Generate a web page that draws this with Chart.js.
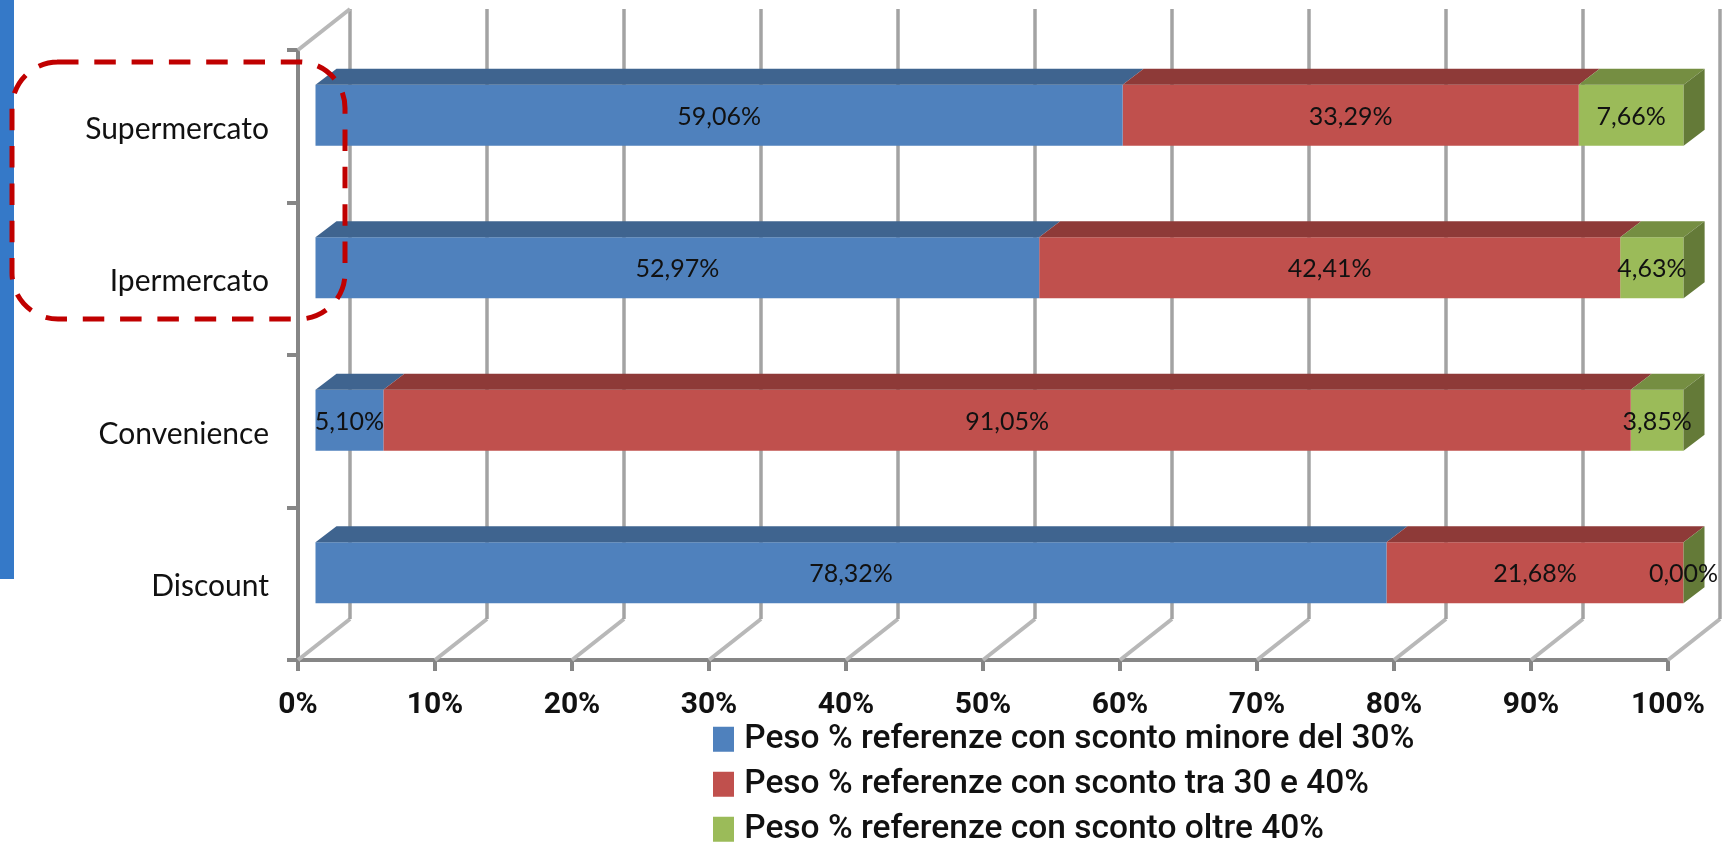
<!DOCTYPE html>
<html>
<head>
<meta charset="utf-8">
<title>Peso % referenze per canale</title>
<script src="https://cdn.jsdelivr.net/npm/chart.js@4"></script>
<style>
  html, body { margin: 0; padding: 0; background: #fff; overflow: hidden; }
  canvas { display: block; }
</style>
</head>
<body>
<canvas id="chart" width="1722" height="843"></canvas>
<script>
// Channels, top to bottom
const categories = ['Supermercato', 'Ipermercato', 'Convenience', 'Discount'];
// Share of products by discount band, one value per channel
const sottoTrenta = [59.06, 52.97, 5.10, 78.32];
const trentaQuaranta = [33.29, 42.41, 91.05, 21.68];
const oltreQuaranta = [7.66, 4.63, 3.85, 0.00];
const seriesNames = [
  'Peso % referenze con sconto minore del 30%',
  'Peso % referenze con sconto tra 30 e 40%',
  'Peso % referenze con sconto oltre 40%'
];
const frontColors = ['#4F81BD', '#C0504D', '#9BBB59'];
const topColors = ['#3F648F', '#8E3A38', '#758E42'];
const sideColor = '#647A38';

// Projection of the box: the bars sit part way into the floor depth
const WALL = { dx: 52, dy: -41 };
const BAR_SHIFT = { dx: 15.5, dy: -11 };
const BAR_DEPTH = { dx: 21, dy: -16 };

function fillPoly(ctx, pts, color) {
  ctx.fillStyle = color;
  ctx.beginPath();
  pts.forEach((p, i) => i ? ctx.lineTo(p[0], p[1]) : ctx.moveTo(p[0], p[1]));
  ctx.closePath();
  ctx.fill();
}

const wallPlugin = {
  id: 'wall',
  beforeDatasetsDraw(chart) {
    const { ctx, chartArea: a, scales: { x } } = chart;
    ctx.save();
    x.ticks.forEach((t, i) => {
      const px = x.getPixelForValue(t.value);
      // floor diagonal
      ctx.strokeStyle = '#B8B8B8';
      ctx.lineWidth = 4;
      ctx.beginPath();
      ctx.moveTo(px, a.bottom);
      ctx.lineTo(px + WALL.dx, a.bottom + WALL.dy);
      ctx.stroke();
      // back-wall gridline
      ctx.strokeStyle = '#A3A3A3';
      ctx.lineWidth = 3.5;
      ctx.beginPath();
      ctx.moveTo(px + WALL.dx, a.bottom + WALL.dy);
      ctx.lineTo(px + WALL.dx, a.top + WALL.dy);
      ctx.stroke();
      if (i === 0) {
        ctx.strokeStyle = '#B8B8B8';
        ctx.lineWidth = 4;
        ctx.beginPath();
        ctx.moveTo(px, a.top);
        ctx.lineTo(px + WALL.dx, a.top + WALL.dy);
        ctx.stroke();
      }
    });
    ctx.restore();
    // Bars are drawn from the shifted front plane
    ctx.save();
    ctx.translate(BAR_SHIFT.dx, BAR_SHIFT.dy);
  },
  afterDatasetsDraw(chart) {
    const { ctx } = chart;
    const metas = chart.data.datasets.map((d, i) => chart.getDatasetMeta(i));
    // Top faces, then the end cap of each stack
    metas.forEach((meta, s) => {
      meta.data.forEach(el => {
        const top = el.y - el.height / 2;
        fillPoly(ctx, [
          [el.base, top], [el.x, top],
          [el.x + BAR_DEPTH.dx, top + BAR_DEPTH.dy],
          [el.base + BAR_DEPTH.dx, top + BAR_DEPTH.dy]
        ], topColors[s]);
      });
    });
    metas[metas.length - 1].data.forEach(el => {
      const top = el.y - el.height / 2, bot = el.y + el.height / 2;
      fillPoly(ctx, [
        [el.x, top], [el.x + BAR_DEPTH.dx, top + BAR_DEPTH.dy],
        [el.x + BAR_DEPTH.dx, bot + BAR_DEPTH.dy], [el.x, bot]
      ], sideColor);
    });
    // Value labels
    ctx.fillStyle = '#111';
    ctx.font = '25px Lato';
    ctx.textAlign = 'center';
    ctx.textBaseline = 'middle';
    metas.forEach((meta, s) => {
      meta.data.forEach((el, j) => {
        const v = chart.data.datasets[s].data[j];
        ctx.fillText(v.toFixed(2).replace('.', ',') + '%', (el.base + el.x) / 2, el.y + 1.5);
      });
    });
    ctx.restore();
  }
};

// Places the legend under the axis, independent of the plot layout
const legendPlacer = {
  id: 'legendPlacer',
  afterLayout(chart) {
    const l = chart.legend;
    l.left = 708;
    l.top = 711;
    l.right = 1722;
    l.bottom = 1000;
  }
};

// Side band and the dashed highlight around the two large formats
const decorPlugin = {
  id: 'decor',
  beforeDraw(chart) {
    const { ctx } = chart;
    ctx.fillStyle = '#3579C8';
    ctx.fillRect(0, 0, 14, 579);
  },
  afterDraw(chart) {
    const { ctx } = chart;
    const l = 12, r = 345, t = 62, b = 319, rad = 46;
    ctx.save();
    ctx.strokeStyle = '#C00000';
    ctx.lineWidth = 5;
    ctx.setLineDash([21.5, 15.8]);
    ctx.beginPath();
    ctx.moveTo(57, t);
    ctx.lineTo(r - rad, t);
    ctx.arcTo(r, t, r, t + rad, rad);
    ctx.lineTo(r, b - rad);
    ctx.arcTo(r, b, r - rad, b, rad);
    ctx.lineTo(l + rad, b);
    ctx.arcTo(l, b, l, b - rad, rad);
    ctx.lineTo(l, t + rad);
    ctx.arcTo(l, t, l + rad, t, rad);
    ctx.stroke();
    ctx.restore();
  }
};

const series = [sottoTrenta, trentaQuaranta, oltreQuaranta];

new Chart(document.getElementById('chart'), {
  type: 'bar',
  data: {
    labels: categories,
    datasets: series.map((values, i) => ({
      label: seriesNames[i],
      data: values,
      backgroundColor: frontColors[i],
      clip: false
    }))
  },
  options: {
    indexAxis: 'y',
    responsive: false,
    animation: false,
    barPercentage: 0.4,
    categoryPercentage: 1,
    layout: { padding: { top: 50, right: 54, left: 0, bottom: 0 } },
    scales: {
      x: {
        stacked: true,
        min: 0,
        max: 100,
        afterFit(s) { s.height = 183; },
        ticks: {
          stepSize: 10,
          maxRotation: 0,
          autoSkip: false,
          padding: 16,
          color: '#111',
          font: { family: 'Roboto', size: 30, weight: 'bold' },
          callback: v => v + '%'
        },
        grid: { drawOnChartArea: false, drawTicks: true, tickLength: 11, color: '#868686', lineWidth: 4 },
        border: { color: '#868686', width: 4 }
      },
      y: {
        stacked: true,
        afterFit(s) { s.width = 298; },
        ticks: {
          padding: 18,
          labelOffset: 3,
          color: '#111',
          font: { family: 'Lato', size: 30 }
        },
        grid: { drawOnChartArea: false, drawTicks: true, tickLength: 11, color: '#868686', lineWidth: 4 },
        border: { color: '#868686', width: 4 }
      }
    },
    plugins: {
      tooltip: { enabled: false },
      legend: {
        position: 'chartArea',
        align: 'start',
        labels: {
          boxWidth: 8,
          boxHeight: 12,
          padding: 11.5,
          font: { family: 'Roboto', size: 33.5, weight: '500' },
          generateLabels(chart) {
            return chart.data.datasets.map((d, i) => ({
              text: d.label,
              fillStyle: frontColors[i],
              strokeStyle: frontColors[i],
              fontColor: '#111',
              lineWidth: 13,
              datasetIndex: i
            }));
          }
        }
      }
    }
  },
  plugins: [wallPlugin, legendPlacer, decorPlugin]
});
</script>
</body>
</html>
